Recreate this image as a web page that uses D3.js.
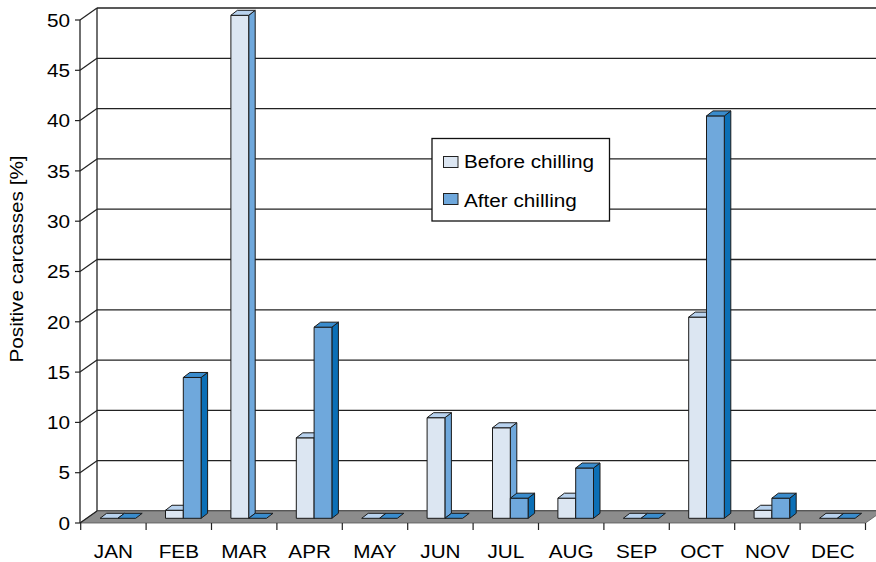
<!DOCTYPE html>
<html><head><meta charset="utf-8">
<script src="https://cdn.jsdelivr.net/npm/d3@7"></script>
<style>body{margin:0;background:#fff}svg{display:block}text{font-family:"Liberation Sans",Arial,sans-serif;fill:#000}</style>
</head><body><svg id="c" width="876" height="562"></svg>
<script>
const months = ["JAN","FEB","MAR","APR","MAY","JUN","JUL","AUG","SEP","OCT","NOV","DEC"];
const before = [0,0.8,50,8,0,10,9,2,0,20,0.8,0];
const after  = [0,14,0,19,0,0,2,5,0,40,2,0];
const yTicks = [0,5,10,15,20,25,30,35,40,45,50];
const seriesNames = ["Before chilling","After chilling"];

const svg = d3.select("#c");
const SX = 1.12, FS = 18.5;
const x = d3.scaleBand().domain(months).range([80.7, 865.5]);
const y = d3.scaleLinear().domain([0,50]).range([523, 20]);
const wall = {dx:17, dy:-12};
const barOff = {dy:-4.7}, barDepth = {dx:6.5, dy:-5};
const barW = 17.8;
const col = {
  before:{front:"#dce6f2", side:"#6fa8dc", top:"#b8d2ee"},
  after:{front:"#6fa8dc", side:"#0b6fb6", top:"#3a8ccd"}
};
const stroke = "#1a1a1a";

// back wall gridlines
svg.selectAll("line.grid").data(yTicks).join("line")
  .attr("x1",80+wall.dx).attr("x2",x.range()[1]+wall.dx)
  .attr("y1",d=>y(d)+wall.dy).attr("y2",d=>y(d)+wall.dy)
  .attr("stroke","#222").attr("stroke-width",1.3);
svg.append("line").attr("x1",80+wall.dx).attr("x2",80+wall.dx)
  .attr("y1",y(50)+wall.dy).attr("y2",y(0)+wall.dy).attr("stroke","#222").attr("stroke-width",1.3);

// floor
const fx0 = 80, fx1 = x.range()[1];
svg.append("polygon")
  .attr("points",[[fx0,y(0)],[fx1,y(0)],[fx1+wall.dx,y(0)+wall.dy],[fx0+wall.dx,y(0)+wall.dy]].map(p=>p.join(",")).join(" "))
  .attr("fill","#8c8c8c").attr("stroke","#555").attr("stroke-width",0.8);

// front y axis
svg.append("line").attr("x1",80).attr("x2",80).attr("y1",y(50)).attr("y2",y(0)).attr("stroke","#222").attr("stroke-width",1.3);
svg.selectAll("line.diag").data(yTicks).join("line")
  .attr("x1",80).attr("x2",80+wall.dx).attr("y1",d=>y(d)).attr("y2",d=>y(d)+wall.dy)
  .attr("stroke","#222").attr("stroke-width",1.2);
svg.selectAll("line.ytick").data(yTicks).join("line")
  .attr("x1",75).attr("x2",80).attr("y1",d=>y(d)).attr("y2",d=>y(d))
  .attr("stroke","#222").attr("stroke-width",1.2);
svg.selectAll("text.ylab").data(yTicks).join("text")
  .attr("text-anchor","end").attr("font-size",FS)
  .attr("transform",d=>`translate(70,${y(d)+6.7}) scale(${SX},1)`)
  .text(d=>d);

// x ticks and labels
const xt = months.map(m=>x(m)).concat([x.range()[1]]);
svg.selectAll("line.xtick").data(xt).join("line")
  .attr("x1",d=>d).attr("x2",d=>d).attr("y1",y(0)).attr("y2",y(0)+7)
  .attr("stroke","#222").attr("stroke-width",1.2);
svg.selectAll("text.xlab").data(months).join("text")
  .attr("text-anchor","middle").attr("font-size",FS)
  .attr("transform",d=>`translate(${x(d)+x.bandwidth()/2},558) scale(${SX},1)`)
  .text(d=>d);

// bars
const pts = a=>a.map(p=>p.join(",")).join(" ");
months.forEach((m,i)=>{
  const cx = x(m)+x.bandwidth()/2;
  [["before",before[i]],["after",after[i]]].forEach(([k,v],j)=>{
    const x0 = cx-13.3+j*barW, x1 = x0+barW;
    const yb = y(0)+barOff.dy, yt = y(v)+barOff.dy;
    const g = svg.append("g").attr("stroke",stroke).attr("stroke-width",1).attr("stroke-linejoin","round");
    const dx = barDepth.dx, dy = barDepth.dy;
    if (v>0){
      g.append("polygon").attr("points",pts([[x1,yb],[x1+dx,yb+dy],[x1+dx,yt+dy],[x1,yt]])).attr("fill",col[k].side);
      g.append("rect").attr("x",x0).attr("y",yt).attr("width",barW).attr("height",yb-yt).attr("fill",col[k].front);
    }
    g.append("polygon").attr("points",pts([[x0,yt],[x1,yt],[x1+dx,yt+dy],[x0+dx,yt+dy]])).attr("fill",col[k].top);
  });
});

// y axis title
svg.append("text").attr("text-anchor","middle").attr("font-size",FS)
  .attr("transform",`translate(23,259) rotate(-90) scale(${SX},1)`)
  .text("Positive carcasses [%]");

// legend
const lg = svg.append("g");
lg.append("rect").attr("x",432).attr("y",138.5).attr("width",177.5).attr("height",82.5)
  .attr("fill","#fff").attr("stroke","#111").attr("stroke-width",1.3);
seriesNames.forEach((n,i)=>{
  const k = i===0?"before":"after";
  const yy = [156.5,193.5][i];
  lg.append("rect").attr("x",443.5).attr("y",yy).attr("width",14.5).attr("height",11)
    .attr("fill",col[k].front).attr("stroke","#222").attr("stroke-width",1);
  lg.append("text").attr("font-size",FS)
    .attr("transform",`translate(464,${yy+[11.5,13][i]}) scale(${SX},1)`).text(n);
});
</script></body></html>
